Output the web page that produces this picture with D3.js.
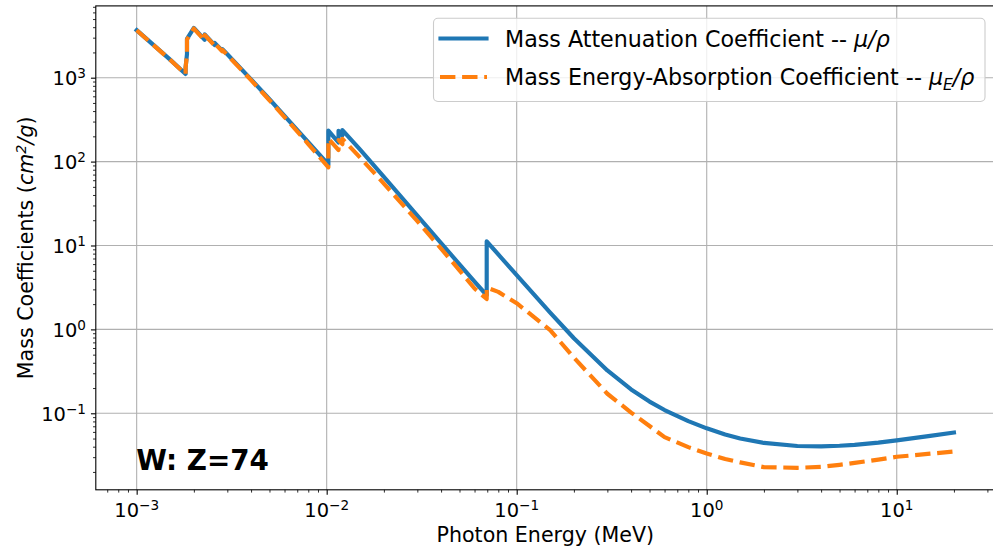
<!DOCTYPE html>
<html>
<head>
<meta charset="utf-8">
<script src="https://cdn.jsdelivr.net/npm/d3@7/dist/d3.min.js"></script>
<style>
  html, body { margin: 0; padding: 0; background: #ffffff; }
  svg { display: block; font-family: "DejaVu Sans", sans-serif; }
</style>
</head>
<body>
<svg id="chart" width="993" height="554"></svg>
<script>
// Tungsten (W, Z=74): photon energy in MeV, edges listed twice (below / above)
const energy = [
  1.0e-3, 1.5e-3, 1.8092e-3, 1.8092e-3, 1.84014e-3, 1.84014e-3, 2.0e-3,
  2.281e-3, 2.281e-3, 2.5747e-3, 2.5747e-3, 2.8196e-3, 2.8196e-3, 3.0e-3,
  4.0e-3, 5.0e-3, 6.0e-3, 8.0e-3, 1.0e-2, 1.02068e-2, 1.02068e-2, 1.08548e-2,
  1.1544e-2, 1.1544e-2, 1.18186e-2, 1.20998e-2, 1.20998e-2, 1.5e-2, 2.0e-2,
  3.0e-2, 4.0e-2, 5.0e-2, 6.0e-2, 6.9525e-2, 6.9525e-2, 8.0e-2, 0.1, 0.15,
  0.2, 0.3, 0.4, 0.5, 0.6, 0.8, 1.0, 1.25, 1.5, 2.0, 3.0, 4.0, 5.0, 6.0,
  8.0, 10, 15, 20
];

// Mass attenuation coefficient mu/rho (cm^2/g)
const muRho = [
  3683, 1643, 1108, 1327, 1911, 2901, 3922,
  2828, 3279, 2445, 2599, 2104, 2194, 1902,
  956.4, 553.4, 351.4, 170.5, 96.91, 92.01, 233.4, 198.3,
  168.9, 233.0, 219.0, 205.8, 237.5, 138.7, 65.73,
  22.73, 10.67, 5.949, 3.713, 2.552, 11.23, 7.810, 4.438, 1.581,
  0.7844, 0.3238, 0.1925, 0.1378, 0.1093, 0.08066, 0.06618, 0.05577, 0.0500,
  0.04433, 0.04075, 0.04038, 0.04103, 0.04210, 0.04472, 0.04747, 0.05384, 0.05893
];

// Mass energy-absorption coefficient mu_E/rho (cm^2/g)
const muEnRho = [
  3671, 1632, 1097, 1311, 1883, 2853, 3853,
  2781, 3226, 2404, 2556, 2066, 2154, 1867,
  935.5, 538.3, 339.4, 162.0, 90.20, 85.49, 187.1, 160.2,
  137.4, 181.0, 170.9, 161.3, 186.2, 111.6, 54.75,
  19.55, 9.177, 5.05, 3.073, 2.30, 3.15, 2.80, 2.05, 0.98,
  0.46, 0.171, 0.102, 0.0705, 0.052, 0.0395, 0.0332, 0.0285, 0.0260,
  0.0228, 0.0224, 0.0230, 0.0243, 0.0256, 0.0280, 0.0303, 0.0330, 0.0350
];

// Decade exponents that carry tick labels
const xTickExponents = [-3, -2, -1, 0, 1];
const yTickExponents = [-1, 0, 1, 2, 3];

const seriesNames = ["Mass Attenuation Coefficient -- ", "Mass Energy-Absorption Coefficient -- "];
const seriesColors = ["#1f77b4", "#ff7f0e"];
const xLabelText = "Photon Energy (MeV)";
const annotationText = "W: Z=74";

const svg = d3.select("#chart");
svg.append("rect").attr("width", 993).attr("height", 554).attr("fill", "#ffffff");

const plot = { left: 95.8, right: 994.8, top: 5.9, bottom: 489.8 };

// Log domains padded by 5% of the decade span on each side
function paddedLogDomain(values) {
  const [a, b] = d3.extent(values).map(Math.log10);
  const pad = 0.05 * (b - a);
  return [Math.pow(10, a - pad), Math.pow(10, b + pad)];
}

const x = d3.scaleLog().domain(paddedLogDomain(energy)).range([plot.left, plot.right]);
const y = d3.scaleLog().domain(paddedLogDomain(muRho.concat(muEnRho))).range([plot.bottom, plot.top]);

const clipId = "plot-clip";
svg.append("clipPath").attr("id", clipId)
  .append("rect")
  .attr("x", plot.left).attr("y", plot.top)
  .attr("width", plot.right - plot.left).attr("height", plot.bottom - plot.top);

// Minor tick positions (2..9 x 10^n) inside a domain
function minorTicks(scale) {
  const [d0, d1] = scale.domain();
  const out = [];
  for (let e = Math.floor(Math.log10(d0)); e <= Math.ceil(Math.log10(d1)); e++) {
    for (let m = 2; m <= 9; m++) {
      const v = m * Math.pow(10, e);
      if (v >= d0 && v <= d1) out.push(v);
    }
  }
  return out;
}

const xMajor = xTickExponents.map(e => Math.pow(10, e));
const yMajor = yTickExponents.map(e => Math.pow(10, e));

// Grid
const grid = svg.append("g").attr("stroke", "#b0b0b0").attr("stroke-width", 1.1);
grid.selectAll("line.gx").data(xMajor).join("line")
  .attr("x1", d => x(d)).attr("x2", d => x(d))
  .attr("y1", plot.top).attr("y2", plot.bottom);
grid.selectAll("line.gy").data(yMajor).join("line")
  .attr("x1", plot.left).attr("x2", plot.right)
  .attr("y1", d => y(d)).attr("y2", d => y(d));

// Series
const pts = vals => energy.map((e, i) => [e, vals[i]]);
const line = d3.line().x(d => x(d[0])).y(d => y(d[1]));
const lw = 4.17;

const marks = svg.append("g").attr("clip-path", `url(#${clipId})`);
marks.append("path")
  .attr("d", line(pts(muRho)))
  .attr("fill", "none").attr("stroke", seriesColors[0])
  .attr("stroke-width", lw).attr("stroke-linejoin", "round").attr("stroke-linecap", "square");
marks.append("path")
  .attr("d", line(pts(muEnRho)))
  .attr("fill", "none").attr("stroke", seriesColors[1])
  .attr("stroke-width", lw).attr("stroke-linejoin", "round").attr("stroke-linecap", "butt")
  .attr("stroke-dasharray", "15.4,6.7");

// Axes with log ticks
function superscriptLabel(sel, exp) {
  sel.append("tspan").text("10");
  sel.append("tspan")
    .attr("font-size", "13.6px")
    .attr("dy", -6.8)
    .text(exp < 0 ? "\u2212" + Math.abs(exp) : String(exp));
}

const xAxis = svg.append("g").attr("transform", `translate(0,${plot.bottom})`)
  .call(d3.axisBottom(x).tickValues(xMajor).tickSize(4.86).tickFormat(""));
const yAxis = svg.append("g").attr("transform", `translate(${plot.left},0)`)
  .call(d3.axisLeft(y).tickValues(yMajor).tickSize(4.86).tickFormat(""));
[xAxis, yAxis].forEach(a => {
  a.select(".domain").remove();
  a.selectAll(".tick line").attr("stroke", "#000").attr("stroke-width", 1.1);
});

const xMinor = svg.append("g").attr("transform", `translate(0,${plot.bottom})`)
  .call(d3.axisBottom(x).tickValues(minorTicks(x)).tickSize(2.78).tickFormat(""));
const yMinor = svg.append("g").attr("transform", `translate(${plot.left},0)`)
  .call(d3.axisLeft(y).tickValues(minorTicks(y)).tickSize(2.78).tickFormat(""));
[xMinor, yMinor].forEach(a => {
  a.select(".domain").remove();
  a.selectAll(".tick line").attr("stroke", "#000").attr("stroke-width", 0.83);
});

xTickExponents.forEach(e => {
  const t = svg.append("text")
    .attr("x", x(Math.pow(10, e))).attr("y", 516.5)
    .attr("text-anchor", "middle").attr("font-size", "19.44px").attr("fill", "#000");
  superscriptLabel(t, e);
});
yTickExponents.forEach(e => {
  const t = svg.append("text")
    .attr("x", 86).attr("y", y(Math.pow(10, e)) + 7.3)
    .attr("text-anchor", "end").attr("font-size", "19.44px").attr("fill", "#000");
  superscriptLabel(t, e);
});

// Frame
svg.append("rect")
  .attr("x", plot.left).attr("y", plot.top)
  .attr("width", plot.right - plot.left).attr("height", plot.bottom - plot.top)
  .attr("fill", "none").attr("stroke", "#000").attr("stroke-width", 1.1);

// Axis labels
svg.append("text")
  .attr("x", (plot.left + plot.right) / 2).attr("y", 542)
  .attr("text-anchor", "middle").attr("font-size", "20.6px").attr("fill", "#000")
  .text(xLabelText);

const yl = svg.append("text")
  .attr("transform", `translate(33,${(plot.top + plot.bottom) / 2}) rotate(-90)`)
  .attr("text-anchor", "middle").attr("font-size", "20.6px").attr("fill", "#000");
yl.append("tspan").text("Mass Coefficients (");
yl.append("tspan").attr("font-style", "italic").text("cm");
yl.append("tspan").attr("font-style", "italic").attr("font-size", "14.4px").attr("dy", -7.5).text("2");
yl.append("tspan").attr("font-style", "italic").attr("dy", 7.5).text("/g");
yl.append("tspan").text(")");

// Annotation
svg.append("text")
  .attr("x", x(1e-3) - 0.5).attr("y", 469.5)
  .attr("font-size", "27.8px").attr("font-weight", "bold").attr("fill", "#000")
  .text(annotationText);

// Legend
const legend = svg.append("g");
legend.append("rect")
  .attr("x", 433.5).attr("y", 18.3).attr("width", 551.5).attr("height", 83.2)
  .attr("rx", 4.4).attr("ry", 4.4)
  .attr("fill", "#ffffff").attr("fill-opacity", 0.8)
  .attr("stroke", "#cccccc").attr("stroke-width", 1.1);

const rowY = [38.5, 77];
legend.append("line")
  .attr("x1", 440.5).attr("x2", 486.5).attr("y1", rowY[0]).attr("y2", rowY[0])
  .attr("stroke", seriesColors[0]).attr("stroke-width", lw).attr("stroke-linecap", "square");
legend.append("line")
  .attr("x1", 440).attr("x2", 487).attr("y1", rowY[1]).attr("y2", rowY[1])
  .attr("stroke", seriesColors[1]).attr("stroke-width", lw).attr("stroke-linecap", "butt")
  .attr("stroke-dasharray", "15.4,6.7");

const t1 = legend.append("text").attr("x", 505).attr("y", rowY[0] + 8.2)
  .attr("font-size", "22.2px").attr("fill", "#000");
t1.append("tspan").text(seriesNames[0]);
t1.append("tspan").attr("font-style", "italic").text("\u03bc/\u03c1");

const t2 = legend.append("text").attr("x", 505).attr("y", rowY[1] + 8.2)
  .attr("font-size", "22.2px").attr("fill", "#000");
t2.append("tspan").text(seriesNames[1]);
t2.append("tspan").attr("font-style", "italic").text("\u03bc");
t2.append("tspan").attr("font-style", "italic").attr("font-size", "15.5px").attr("dy", 4.5).text("E");
t2.append("tspan").attr("font-style", "italic").attr("dy", -4.5).text("/\u03c1");
</script>
</body>
</html>
